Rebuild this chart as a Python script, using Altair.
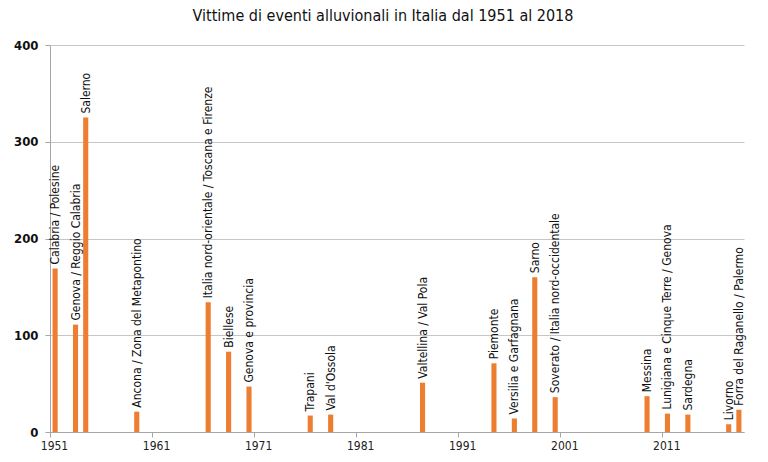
import altair as alt
import pandas as pd

years = [1951, 1953, 1954, 1959, 1966, 1968, 1970, 1976, 1978, 1987,
         1994, 1996, 1998, 2000, 2009, 2011, 2013, 2017, 2018]
victims = [169, 111, 325, 21, 134, 83, 47, 17, 18, 51,
           71, 14, 160, 36, 37, 19, 18, 8, 23]
places = [
    "Calabria / Polesine",
    "Genova / Reggio Calabria",
    "Salerno",
    "Ancona / Zona del Metapontino",
    "Italia nord-orientale / Toscana e Firenze",
    "Biellese",
    "Genova e provincia",
    "Trapani",
    "Val d'Ossola",
    "Valtellina / Val Pola",
    "Piemonte",
    "Versilia e Garfagnana",
    "Sarno",
    "Soverato / Italia nord-occidentale",
    "Messina",
    "Lunigiana e Cinque Terre / Genova",
    "Sardegna",
    "Livorno",
    "Forra del Raganello / Palermo",
]
tick_years = [1951, 1961, 1971, 1981, 1991, 2001, 2011]
y_ticks = [0, 100, 200, 300, 400]

df = pd.DataFrame({"anno": years, "vittime": victims, "luogo": places})

FONT = "DejaVu Sans Condensed, sans-serif"
ORANGE = "#ED7D31"

base = alt.Chart(df).transform_calculate(
    x0="datum.anno + 0.25", x1="datum.anno + 0.75", xm="datum.anno + 0.5"
)

xscale = alt.Scale(domain=[1951, 2019], nice=False, zero=False)
yscale = alt.Scale(domain=[0, 400], nice=False)

bars = base.mark_bar(color=ORANGE).encode(
    x=alt.X("x0:Q", scale=xscale,
            axis=alt.Axis(values=tick_years, format="d", title=None, grid=False,
                          labelFont=FONT, labelFontSize=12, labelColor="#222222",
                          labelOffset=4, labelPadding=3, tickSize=5,
                          tickColor="#a6a6a6", domainColor="#a6a6a6",
                          labelFlush=False)),
    x2="x1:Q",
    y=alt.Y("vittime:Q", scale=yscale,
            axis=alt.Axis(values=y_ticks, title=None, grid=True,
                          gridColor="#c6c6c6", gridWidth=1.2,
                          labelFont=FONT, labelFontSize=13, labelFontWeight="bold",
                          labelColor="#111111", labelPadding=7, tickSize=5,
                          tickColor="#a6a6a6", domainColor="#a6a6a6")),
    y2=alt.datum(0),
)

labels = base.mark_text(angle=270, align="left", baseline="middle", dx=4,
                        font=FONT, fontSize=12, color="#111111").encode(
    x=alt.X("xm:Q", scale=xscale),
    y=alt.Y("vittime:Q", scale=yscale),
    text="luogo:N",
)

chart = (bars + labels).properties(
    width=694, height=387,
    autosize="none",
    padding={"left": 50, "top": 45, "right": 24, "bottom": 30},
    title=alt.TitleParams(
        "Vittime di eventi alluvionali in Italia dal 1951 al 2018",
        font=FONT, fontSize=16, fontWeight="normal", color="#111111",
        anchor="middle", dx=-14, offset=15,
    ),
).configure_view(stroke=None)

chart.save("out.html", embed_options={"renderer": "svg", "actions": False})
